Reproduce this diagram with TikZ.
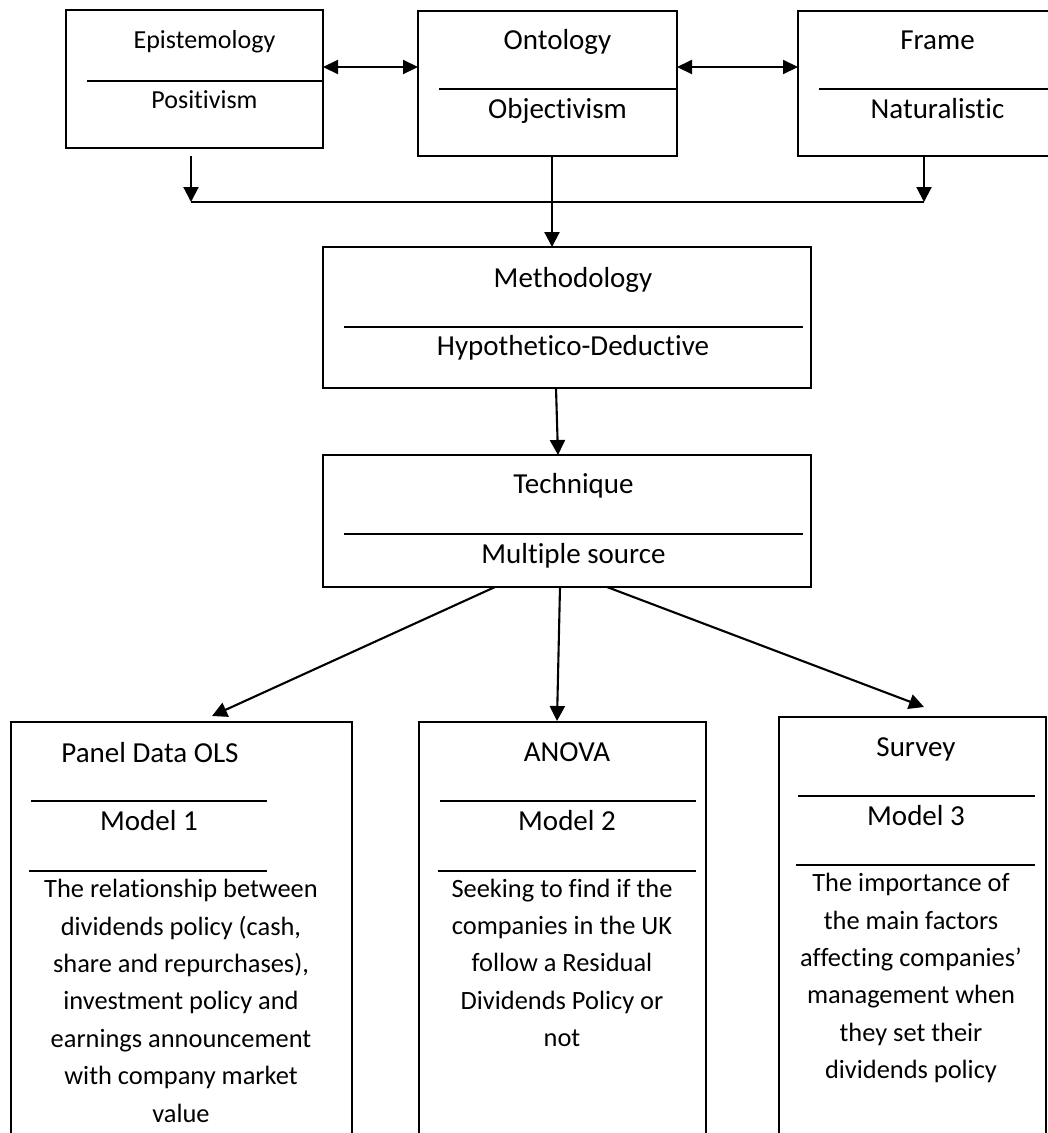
\documentclass[tikz,border=0pt]{standalone}
\usepackage{fontspec}
\setmainfont{Carlito}[Ligatures=NoCommon]
\usetikzlibrary{arrows.meta,calc}
\begin{document}
\begin{tikzpicture}[x=1pt,y=-1pt,
  box/.style={draw, line width=2.1pt, rectangle, inner sep=0pt, outer sep=0pt, anchor=north west},
  divline/.style={line width=2.1pt},
  arr/.style={line width=2.1pt, -{Triangle[length=15pt,width=15pt]}},
  darr/.style={line width=2.1pt, {Triangle[length=15pt,width=14pt]}-{Triangle[length=15pt,width=14pt]}},
  plainline/.style={line width=2.1pt},
  big/.style={inner sep=0pt, anchor=base, font=\fontsize{29}{35}\selectfont},
  small/.style={inner sep=0pt, anchor=base, font=\fontsize{26}{31}\selectfont},
  body/.style={inner sep=0pt, anchor=north, align=center, font=\fontsize{26.4}{37.4}\selectfont}]
\useasboundingbox (0,0) rectangle (1048,1133);
\clip (0,0) rectangle (1048,1133);
\fill[white] (0,0) rectangle (1048,1133);

% boxes
\node[box, minimum width=257pt, minimum height=138pt] (epi) at (66,10) {};
\node[box, minimum width=259pt, minimum height=145pt] (ont) at (418,11) {};
\node[box, minimum width=270pt, minimum height=145pt] (frm) at (798,11) {};
\node[box, minimum width=488pt, minimum height=141pt] (meth) at (323,247) {};
\node[box, minimum width=488pt, minimum height=132pt] (tech) at (323,455) {};
\node[box, minimum width=341pt, minimum height=450pt] (panel) at (11,722) {};
\node[box, minimum width=287pt, minimum height=450pt] (anova) at (419,722) {};
\node[box, minimum width=267pt, minimum height=455pt] (survey) at (779,717) {};

% dividers
\draw[divline] (87,81) -- (323,81);
\draw[divline] (439,89) -- (677,89);
\draw[divline] (819,89) -- (1070,89);
\draw[divline] (344,327) -- (803,327);
\draw[divline] (344,534) -- (803,534);
\draw[divline] (31,801) -- (267,801);
\draw[divline] (29,871) -- (267,871);
\draw[divline] (440,801) -- (696,801);
\draw[divline] (438,871) -- (696,871);
\draw[divline] (798,796) -- (1035,796);
\draw[divline] (796,865) -- (1035,865);

% texts
\node[small] (t1) at (204.5,48) {Epistemology};
\node[small] (t2) at (204.5,108) {Positivism};
\node[big] (t3) at (557.5,49) {Ontology};
\node[big] (t4) at (557.5,118) {Objectivism};
\node[big] (t5) at (937.5,49) {Frame};
\node[big] (t6) at (937.5,118) {Naturalistic};
\node[big] (t7) at (573,287) {Methodology};
\node[big] (t8) at (573,355) {Hypothetico-Deductive};
\node[big] (t9) at (573.5,493) {Technique};
\node[big] (t10) at (573.5,563) {Multiple source};
\node[big] (t11) at (150,762) {Panel Data OLS};
\node[big] (t12) at (149,830) {Model 1};
\node[big] (t13) at (567,761) {ANOVA};
\node[big] (t14) at (567,830) {Model 2};
\node[big] (t15) at (916,756) {Survey};
\node[big] (t16) at (916,825) {Model 3};
\node[body] (b1) at (181,871.3) {\strut The relationship between\\dividends policy (cash,\\share and repurchases),\\investment policy and\\earnings announcement\\with company market\\value};
\node[body] (b2) at (562,870.8) {\strut Seeking to find if the\\companies in the UK\\follow a Residual\\Dividends Policy or\\not};
\node[body] (b3) at (911,865.3) {\strut The importance of\\the main factors\\affecting companies’\\management when\\they set their\\dividends policy};

% connector coordinates
\coordinate (da) at (0,67);
\coordinate (jl) at (191,202);
\coordinate (jr) at (924,202);
\coordinate (jm) at (552,202);

% connectors
\draw[darr] (epi.east |- da) -- (ont.west |- da);
\draw[darr] (ont.east |- da) -- (frm.west |- da);
\draw[arr] ([yshift=-8pt]epi.south -| jl) -- (jl);
\draw[arr] (frm.south -| jr) -- (jr);
\draw[plainline] (jl) -- (jr);
\draw[arr] (ont.south -| jm) -- (meth.north -| jm);
\draw[arr] ([xshift=-11pt]meth.south) -- ([xshift=-9pt]tech.north);
\draw[arr] ([xshift=-72pt]tech.south) -- ([xshift=30.5pt,yshift=6pt]panel.north);
\draw[arr] ([xshift=-7pt]tech.south) -- ([xshift=-5.5pt,yshift=1pt]anova.north);
\draw[arr] ([xshift=40pt]tech.south) -- ([xshift=11.5pt,yshift=10pt]survey.north);
\end{tikzpicture}
\end{document}
